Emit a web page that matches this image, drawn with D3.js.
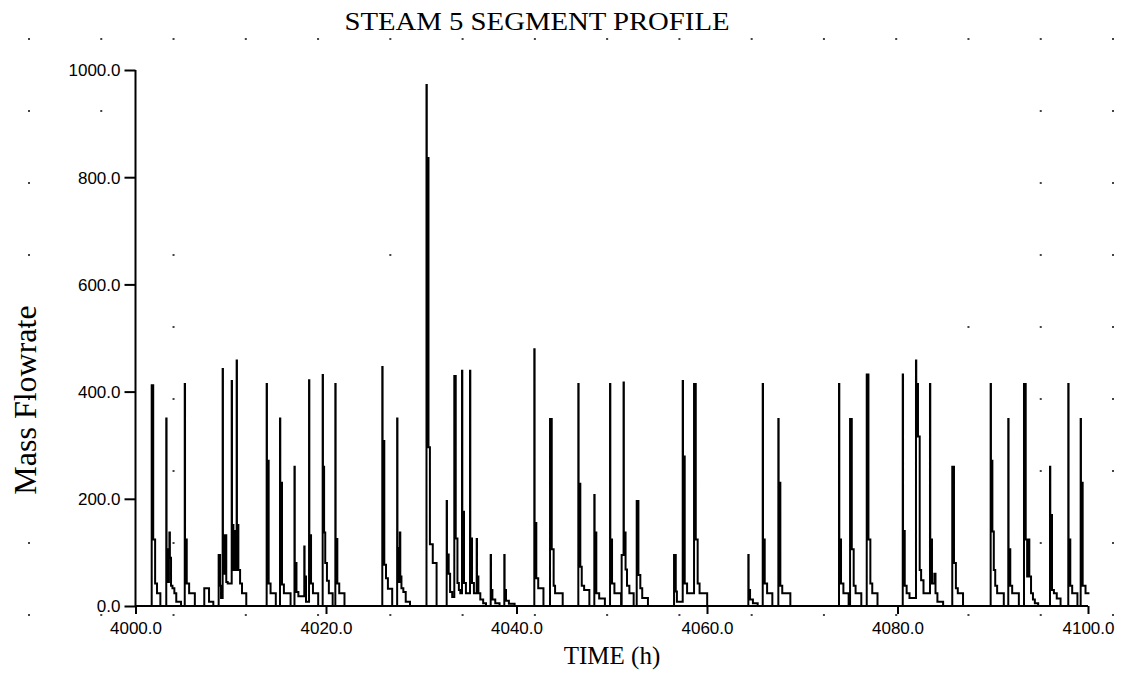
<!DOCTYPE html>
<html>
<head>
<meta charset="utf-8">
<script src="https://cdn.jsdelivr.net/npm/d3@7"></script>
<style>
  html, body { margin: 0; padding: 0; background: #fff; }
  svg { display: block; }
</style>
</head>
<body>
<svg id="chart" width="1122" height="673"></svg>
<script>
// ---------------- DATA ----------------
const chartTitle = "STEAM 5 SEGMENT PROFILE";
const xLabel = "TIME (h)";
const yLabel = "Mass Flowrate";
const xTicks = [4000, 4020, 4040, 4060, 4080, 4100];
const yTicks = [0, 200, 400, 600, 800, 1000];

// start time (h) of each flow event
const eventStart = [
  4001.70, 4003.23, 4005.17, 4007.22, 4008.73, 4009.15, 4010.10, 4010.62,
  4013.77, 4015.17, 4016.69, 4017.72, 4018.22, 4019.65, 4020.98,
  4025.91, 4027.47, 4030.55, 4032.67, 4033.47, 4034.28, 4035.12, 4035.82,
  4037.29, 4038.72, 4041.87, 4043.52, 4046.49, 4048.17, 4049.82, 4051.04,
  4052.62, 4056.54, 4057.45, 4058.64, 4064.34, 4065.85, 4067.49,
  4073.86, 4075.02, 4076.77, 4080.55, 4081.94, 4083.41, 4085.75,
  4089.78, 4091.63, 4093.28, 4096.01, 4097.93, 4099.23
];
// successive flow levels of each event
const eventLevels = [
  [412,124,42,24], [350,106,45,106,137,90,38,33,24,8], [414,124,42,24], [33,8],
  [95,38,15], [442,132,60,132,45,42], [420,151,67,140,67], [458,151,67,42,24],
  [414,271,42,24], [350,230,40,24], [260,80,26,18], [111,55,8], [421,132,42,24],
  [431,260,137,80,47,24], [414,125,42,24],
  [446,308,77,52,32], [350,108,45,137,55,33,26,8], [972,836,296,115,80],
  [196,96,60,26,17], [429,126,43,30,24], [439,176,43,24], [439,126,43,24],
  [125,55,24,12,5], [95,30,12,5], [95,30,10,4], [479,155,52,33], [349,106,38,24],
  [414,228,73,38,30], [207,137,24,14], [414,124,42,24], [95,417,137,68,38,24],
  [196,58,33,15], [95,27,8], [420,279,42,24], [414,124,42,24], [95,30,12,5],
  [414,124,42,24], [349,230,38,24],
  [414,124,42,24], [349,106,38,24], [432,124,42,24], [432,140,38,24,15],
  [458,414,316,67,48,24], [414,124,42,60,24,8], [260,80,33,24],
  [414,271,139,67,38,24], [349,106,38,24], [414,124,55,124,55,24,12,5],
  [260,170,30,24,14], [414,124,38,24], [349,230,38,24]
];
// how long (h) each level is held
const eventHold = [
  [0.16,0.2,0.2,0.35], [0.03,0.15,0.1,0.05,0.05,0.12,0.15,0.2,0.2,0.5], [0.03,0.18,0.25,0.6], [0.5,0.45],
  [0.15,0.1,0.3], [0.03,0.15,0.1,0.1,0.15,0.5], [0.03,0.15,0.1,0.1,0.2], [0.03,0.15,0.18,0.2,0.45],
  [0.03,0.18,0.2,0.55], [0.03,0.18,0.2,0.7], [0.03,0.18,0.2,0.7], [0.03,0.15,0.4], [0.03,0.18,0.2,0.55],
  [0.03,0.12,0.12,0.18,0.2,0.4], [0.03,0.18,0.2,0.55],
  [0.03,0.18,0.18,0.2,0.45], [0.03,0.15,0.1,0.05,0.12,0.2,0.25,0.45], [0.03,0.18,0.15,0.3,0.4],
  [0.03,0.18,0.15,0.22,0.3], [0.15,0.18,0.15,0.15,0.3], [0.03,0.18,0.2,0.5], [0.03,0.18,0.2,0.4],
  [0.03,0.15,0.2,0.3,0.3], [0.03,0.15,0.3,0.45], [0.03,0.15,0.3,0.6], [0.03,0.18,0.2,0.55], [0.18,0.2,0.15,0.8],
  [0.03,0.18,0.15,0.25,0.55], [0.03,0.18,0.3,0.6], [0.03,0.18,0.25,0.7], [0.2,0.03,0.18,0.15,0.25,0.45],
  [0.18,0.2,0.2,0.6], [0.18,0.12,0.7], [0.03,0.18,0.25,0.8], [0.18,0.2,0.2,0.8], [0.03,0.15,0.3,0.5],
  [0.03,0.18,0.25,0.55], [0.03,0.18,0.2,0.85],
  [0.03,0.18,0.25,0.55], [0.18,0.2,0.2,0.6], [0.18,0.2,0.2,0.55], [0.03,0.18,0.2,0.3,0.8],
  [0.03,0.18,0.18,0.15,0.25,0.8], [0.03,0.18,0.25,0.12,0.2,0.6], [0.18,0.2,0.2,0.55],
  [0.03,0.15,0.15,0.15,0.2,0.7], [0.03,0.18,0.2,0.7], [0.18,0.15,0.2,0.03,0.18,0.2,0.2,0.35],
  [0.03,0.18,0.2,0.3,0.4], [0.03,0.18,0.2,0.55], [0.03,0.18,0.3,0.5]
];

// background snap-grid dots that remain visible: [column, row]
const gridDots = [
  [0,0],[1,0],[2,0],[3,0],[4,0],[5,0],[6,0],[7,0],[8,0],[9,0],[10,0],[11,0],[12,0],[13,0],[14,0],[15,0],
  [0,8],[1,8],[2,8],[3,8],[4,8],[5,8],[6,8],[7,8],[8,8],[9,8],[10,8],[11,8],[12,8],[13,8],[14,8],[15,8],
  [0,1],[1,1],[14,1],[15,1],
  [0,2],[14,2],[15,2],
  [0,3],[2,3],[5,3],[14,3],[15,3],
  [0,4],[2,4],[13,4],[14,4],[15,4],
  [0,5],[2,5],[14,5],[15,5],
  [0,6],[2,6],[14,6],[15,6],
  [0,7],[2,7],[14,7],[15,7]
];

// ---------------- CHART ----------------
const svg = d3.select("#chart");
const x = d3.scaleLinear().domain([4000, 4100]).range([135.5, 1088]);
const y = d3.scaleLinear().domain([0, 1000]).range([606, 70]);

// grid dots
const dotX = d3.scaleLinear().domain([0, 15]).range([29, 1113]);
const dotY = d3.scaleLinear().domain([0, 8]).range([39, 615]);
svg.append("g").selectAll("rect").data(gridDots).join("rect")
  .attr("x", d => dotX(d[0]) - 1).attr("y", d => dotY(d[1]) - 1)
  .attr("width", 2).attr("height", 2).attr("fill", "#444");

// build the step series
let pts = [{t: 4000, v: 0}];
eventStart.forEach((s, i) => {
  pts = pts.filter(p => p.t < s);
  let t = s;
  eventLevels[i].forEach((v, k) => {
    pts.push({t: t, v: v});
    t += eventHold[i][k];
  });
  pts.push({t: t, v: 0});
});
const endT = 4100;
const before = pts.filter(p => p.t <= endT);
const lastV = before[before.length - 1].v;
before.push({t: endT + 0.15, v: lastV});
pts = before;

const line = d3.line().x(d => x(d.t)).y(d => y(d.v)).curve(d3.curveStepAfter);
svg.append("path").datum(pts)
  .attr("d", line).attr("fill", "none")
  .attr("stroke", "#000").attr("stroke-width", 2);

// axes
const xAxis = d3.axisBottom(x).tickValues(xTicks).tickSize(8).tickPadding(8)
  .tickFormat(d3.format(".1f"));
const gx = svg.append("g").attr("transform", "translate(0,606)").call(xAxis);
const yAxis = d3.axisLeft(y).tickValues(yTicks).tickSize(11).tickPadding(4)
  .tickFormat(d3.format(".1f"));
const gy = svg.append("g").attr("transform", "translate(135.5,0)").call(yAxis);

[gx, gy].forEach(g => {
  g.select(".domain").attr("stroke", "#000").attr("stroke-width", 2);
  g.selectAll(".tick line").attr("stroke", "#000").attr("stroke-width", 2);
  g.selectAll(".tick text").attr("fill", "#000")
    .style("font-family", "'Liberation Sans', Arial, sans-serif").style("font-size", "17px");
});
gx.select(".domain").attr("d", "M135.5,0H1088");
gy.select(".domain").attr("d", "M0,606V70");
gy.selectAll(".tick text").attr("dy", "0.35em");

// titles
svg.append("text").attr("x", 537).attr("y", 30).attr("text-anchor", "middle")
  .style("font-family", "'Liberation Serif', 'Times New Roman', serif").style("font-size", "26px")
  .attr("textLength", 385).attr("lengthAdjust", "spacingAndGlyphs")
  .text(chartTitle);
svg.append("text").attr("x", 612).attr("y", 664).attr("text-anchor", "middle")
  .style("font-family", "'Liberation Serif', 'Times New Roman', serif").style("font-size", "25px")
  .text(xLabel);
svg.append("text").attr("transform", "translate(36,400) rotate(-90)").attr("text-anchor", "middle")
  .style("font-family", "'Liberation Serif', 'Times New Roman', serif").style("font-size", "32px")
  .text(yLabel);
</script>
</body>
</html>
